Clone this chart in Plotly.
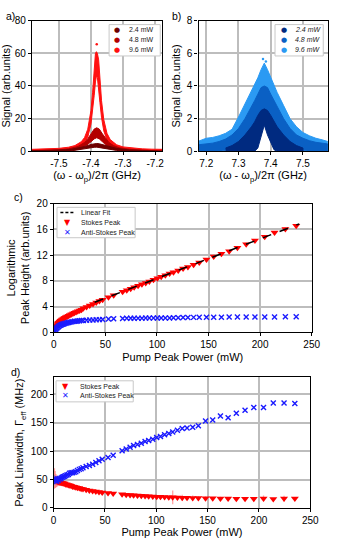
import plotly.graph_objects as go

W, H = 339, 548
FONT = "Liberation Sans, Arial, sans-serif"

# ---------------- data: panel a (Stokes spectra) ----------------
a96_x = [-7.584, -7.56, -7.53, -7.50, -7.47, -7.45, -7.43, -7.42, -7.41, -7.40, -7.395, -7.39, -7.386,
         -7.383, -7.380, -7.376, -7.372, -7.367, -7.36, -7.35, -7.34, -7.32, -7.30, -7.27, -7.24, -7.21, -7.178]
a96_hi = [1.2, 1.3, 1.5, 1.8, 2.5, 3.5, 5.9, 8.4, 13.5, 25.0, 35.8, 50.0, 60.0,
          61.0, 60.0, 56.0, 44.0, 31.0, 19.4, 11.0, 7.2, 4.0, 2.7, 1.9, 1.5, 1.3, 1.2]
a96_lo = [0.1, 0.15, 0.3, 0.5, 0.95, 1.65, 3.3, 5.1, 8.6, 16.6, 24.0, 34.0, 42.5,
          46.0, 45.3, 38.6, 29.8, 20.6, 12.5, 6.9, 4.2, 2.0, 1.1, 0.55, 0.3, 0.15, 0.1]
a48_x = [-7.584, -7.54, -7.50, -7.47, -7.44, -7.42, -7.41, -7.40, -7.39, -7.382,
         -7.374, -7.364, -7.354, -7.344, -7.33, -7.31, -7.28, -7.24, -7.178]
a48_hi = [0.35, 0.5, 0.9, 1.5, 3.0, 5.4, 7.6, 10.6, 13.6, 14.4, 13.6, 10.6, 7.6, 5.4, 3.5, 2.1, 1.2, 0.7, 0.35]
a48_lo = [0, 0, 0.1, 0.4, 1.2, 2.8, 4.0, 5.8, 7.6, 8.3, 7.6, 5.8, 4.0, 2.8, 1.6, 0.7, 0.2, 0, 0]
a24_x = [-7.584, -7.52, -7.48, -7.46, -7.44, -7.42, -7.40, -7.39, -7.382,
         -7.374, -7.36, -7.34, -7.32, -7.30, -7.28, -7.24, -7.178]
a24_hi = [0.3, 0.5, 0.9, 1.3, 1.9, 2.9, 4.2, 4.6, 4.8, 4.6, 3.9, 2.7, 1.8, 1.2, 0.8, 0.5, 0.3]
a24_lo = [0, 0, 0.05, 0.3, 0.65, 1.3, 2.1, 2.45, 2.55, 2.45, 1.95, 1.15, 0.55, 0.2, 0, 0, 0]
a_out_x = [-7.382]
a_out_y = [65.5]

# ---------------- data: panel b (anti-Stokes spectra) ----------------
b96_x = [7.176, 7.20, 7.22, 7.24, 7.26, 7.28, 7.30, 7.32, 7.34, 7.35, 7.36, 7.37, 7.38,
         7.39, 7.40, 7.41, 7.42, 7.44, 7.46, 7.48, 7.50, 7.52, 7.54, 7.56, 7.577]
b96_hi = [0.62, 0.8, 0.85, 0.95, 1.1, 1.35, 2.1, 2.9, 3.6, 4.0, 4.5, 5.0, 5.4,
          5.0, 4.5, 4.0, 3.6, 2.8, 2.0, 1.5, 1.15, 0.95, 0.8, 0.7, 0.6]
b96_lo = [0, 0.05, 0.1, 0.15, 0.3, 0.45, 0.7, 1.1, 1.8, 2.2, 2.7, 3.1, 3.3,
          3.1, 2.7, 2.2, 1.8, 1.1, 0.7, 0.45, 0.3, 0.15, 0.1, 0.05, 0]
b48_x = b96_x
b48_hi = [0.4, 0.45, 0.5, 0.6, 0.75, 1.0, 1.4, 2.0, 2.7, 3.1, 3.5, 3.9, 4.0,
          3.9, 3.5, 3.1, 2.7, 2.0, 1.4, 1.0, 0.8, 0.65, 0.55, 0.5, 0.45]
b48_lo = [0, 0, 0, 0, 0.05, 0.15, 0.3, 0.6, 1.0, 1.3, 1.7, 2.1, 2.3,
          2.1, 1.7, 1.3, 1.0, 0.6, 0.3, 0.15, 0.05, 0, 0, 0, 0]
b24_x = [7.26, 7.28, 7.30, 7.32, 7.34, 7.35, 7.36, 7.37, 7.38, 7.39, 7.40, 7.41, 7.42, 7.44, 7.46, 7.48, 7.50]
b24_hi = [0.2, 0.35, 0.6, 1.0, 1.5, 1.8, 2.2, 2.5, 2.6, 2.5, 2.2, 1.85, 1.5, 1.0, 0.6, 0.35, 0.2]
b24_lo = [0, 0, 0, 0, 0, 0, 0.2, 0.9, 1.6, 1.0, 0.5, 0.1, 0, 0, 0, 0, 0]
b_out_x = [7.376, 7.385]
b_out_y = [5.65, 5.5]

# ---------------- data: panels c and d ----------------
power = [0.8, 1.5, 2.2, 3.0, 3.8, 4.6, 5.5, 6.4, 7.4, 8.4,
         9.5, 10.6, 11.8, 13.0, 14.3, 15.6, 17.0, 18.5, 20.0, 21.6,
         23.2, 25.0, 26.8, 28.6, 31.7, 34.8, 38.0, 41.1, 44.2, 47.3,
         53.0, 58.0, 66.7, 70.7, 74.5, 77.9, 81.7, 85.4, 89.1, 92.6,
         96.6, 100.4, 104.1, 108.1, 112.2, 116.0, 120.6, 125.3, 130.0, 135.5,
         141.0, 148.0, 155.0, 162.5, 170.0, 178.0, 186.5, 195.0, 204.5, 214.0,
         224.5, 235.0]
stokes_log = [0.4, 0.7, 0.95, 1.15, 1.35, 1.5, 1.65, 1.78, 1.9, 2.02,
              2.14, 2.25, 2.36, 2.47, 2.58, 2.68, 2.8, 2.92, 3.03, 3.15,
              3.27, 3.4, 3.52, 3.75, 3.95, 4.15, 4.4, 4.65, 4.85, 5.05,
              5.45, 5.75, 6.3, 6.55, 6.78, 7.0, 7.22, 7.45, 7.68, 7.9,
              8.15, 8.4, 8.62, 8.88, 9.12, 9.35, 9.6, 9.9, 10.15, 10.5,
              10.85, 11.3, 11.8, 12.2, 12.6, 13.15, 13.7, 14.25, 14.85, 15.5,
              16.05, 16.55]
anti_log = [0.25, 0.4, 0.55, 0.68, 0.8, 0.9, 1.0, 1.08, 1.16, 1.24,
            1.3, 1.36, 1.42, 1.48, 1.53, 1.57, 1.62, 1.66, 1.7, 1.73,
            1.76, 1.79, 1.82, 1.84, 1.87, 1.9, 1.93, 1.95, 1.97, 1.99,
            2.08, 2.1, 2.16, 2.17, 2.18, 2.19, 2.2, 2.2, 2.21, 2.21,
            2.22, 2.22, 2.23, 2.23, 2.24, 2.25, 2.28, 2.3, 2.31, 2.32,
            2.33, 2.34, 2.35, 2.35, 2.36, 2.37, 2.37, 2.38, 2.38, 2.39,
            2.4, 2.4]
fit_x = [39.6, 238.0]
fit_y = [4.67, 16.85]

stokes_lw = [52, 50, 48, 47, 46.5, 46, 45.5, 45, 44.5, 44,
             43.5, 43, 42, 41.5, 40.5, 40, 39, 38, 37.5, 36.5,
             35.5, 35, 34, 33.5, 32, 31, 30, 29, 28, 27.5,
             26.5, 25.5, 24, 23.5, 23, 22.5, 22, 21.5, 21, 20.5,
             20.2, 20, 19.6, 19.3, 19, 18.8, 18.5, 18.2, 18, 17.8,
             17.5, 17.2, 17, 16.8, 16.6, 16.4, 16.3, 16.2, 16.8, 15.8,
             16.5, 16.5]
stokes_lw_err = [18, 15, 12, 10, 8, 7, 6, 5, 4.5, 4,
                 3.5, 3, 3, 2.5, 2.5, 2, 2, 2, 2, 2,
                 2, 2, 2, 2, 2, 2, 2, 2, 2, 2,
                 2, 2, 2, 2, 2, 2, 2, 2, 2, 2,
                 2, 2, 2, 2, 2, 12, 3, 5, 3, 4,
                 3, 3, 2, 3, 2, 3, 2, 2, 5, 2,
                 5, 3]
anti_lw = [50, 48, 50, 47, 51, 49, 52, 51, 53, 54,
           55, 56, 57, 58, 59, 61, 62, 62, 63, 64,
           66, 68, 69, 71, 73, 75, 77, 80, 83, 86,
           89, 93, 101, 104, 107, 110, 112, 114, 117, 119,
           121, 124, 126, 129, 131, 134, 137, 140, 141, 142,
           145, 153, 155, 162, 159, 167, 172, 177, 177, 185,
           185, 184]
anti_lw_err = [8, 7, 6, 5, 5, 4, 4, 3, 3, 3,
               2, 2, 2, 2, 2, 2, 2, 2, 2, 2,
               2, 2, 2, 2, 2, 2, 2, 2, 2, 2,
               2, 2, 2, 2, 2, 2, 2, 2, 2, 2,
               2, 2, 2, 2, 2, 2, 2, 2, 2, 2,
               2, 2, 2, 2, 2, 2, 2, 2, 2, 2,
               2, 2]

series_labels = ["2.4 mW", "4.8 mW", "9.6 mW"]
red_cols = ["#6e0000", "#b30000", "#ff1010"]
blue_cols = ["#002a80", "#0a60c4", "#2b9af3"]
a_ticks = [-7.5, -7.4, -7.3, -7.2]
a_ticktext = ["-7.5", "-7.4", "-7.3", "-7.2"]
b_ticks = [7.2, 7.3, 7.4, 7.5]
b_ticktext = ["7.2", "7.3", "7.4", "7.5"]

fig = go.Figure()


def band(x, hi, lo, color, xa, ya):
    fig.add_trace(go.Scatter(
        x=list(x) + list(x)[::-1], y=list(hi) + list(lo)[::-1],
        fill="toself", fillcolor=color, mode="lines",
        line=dict(color=color, width=1), xaxis=xa, yaxis=ya,
        showlegend=False, hoverinfo="skip"))


# panel a: 9.6 drawn first (back), 2.4 on top
band(a96_x, a96_hi, a96_lo, red_cols[2], "x", "y")
fig.add_trace(go.Scatter(x=a_out_x, y=a_out_y, mode="markers", marker=dict(size=2.5, color=red_cols[2]),
                         xaxis="x", yaxis="y", showlegend=False))
band(a48_x, a48_hi, a48_lo, red_cols[1], "x", "y")
band(a24_x, a24_hi, a24_lo, red_cols[0], "x", "y")

# panel b
band(b96_x, b96_hi, b96_lo, blue_cols[2], "x2", "y2")
fig.add_trace(go.Scatter(x=b_out_x, y=b_out_y, mode="markers", marker=dict(size=2.5, color=blue_cols[2]),
                         xaxis="x2", yaxis="y2", showlegend=False))
band(b48_x, b48_hi, b48_lo, blue_cols[1], "x2", "y2")
band(b24_x, b24_hi, b24_lo, blue_cols[0], "x2", "y2")

# panel c
fig.add_trace(go.Scatter(x=power, y=stokes_log, mode="markers", xaxis="x3", yaxis="y3",
                         marker=dict(symbol="triangle-down", size=7, color="#ff0000"),
                         error_y=dict(type="constant", value=0.25, color="rgba(255,110,110,0.6)",
                                      thickness=1.5, width=0),
                         showlegend=False))
fig.add_trace(go.Scatter(x=power, y=anti_log, mode="markers", xaxis="x3", yaxis="y3",
                         marker=dict(symbol="x-thin", size=5, color="#1a1aff",
                                     line=dict(color="#1a1aff", width=1.4)),
                         showlegend=False))
fig.add_trace(go.Scatter(x=fit_x, y=fit_y, mode="lines", xaxis="x3", yaxis="y3",
                         line=dict(color="black", width=1.5, dash="dash"), showlegend=False))

# panel d
fig.add_trace(go.Scatter(x=power, y=stokes_lw, mode="markers", xaxis="x4", yaxis="y4",
                         marker=dict(symbol="triangle-down", size=7, color="#ff0000"),
                         error_y=dict(type="data", array=stokes_lw_err, color="rgba(255,90,90,0.55)",
                                      thickness=1.3, width=0),
                         showlegend=False))
fig.add_trace(go.Scatter(x=power, y=anti_lw, mode="markers", xaxis="x4", yaxis="y4",
                         marker=dict(symbol="x-thin", size=5, color="#1a1aff",
                                     line=dict(color="#1a1aff", width=1.4)),
                         error_y=dict(type="data", array=anti_lw_err, color="rgba(90,90,255,0.5)",
                                      thickness=1.2, width=0),
                         showlegend=False))


def px(xp):
    return xp / W


def py(yp):
    return 1 - yp / H


axis_common = dict(showline=True, linecolor="black", linewidth=1.2, mirror=True,
                   showgrid=True, gridcolor="#bdbdbd", gridwidth=1.5, zeroline=False,
                   ticks="outside", ticklen=3, tickwidth=1, tickcolor="black",
                   tickfont=dict(family=FONT, size=10, color="black"))
tfont = dict(family=FONT, size=11, color="black")
xtitle_a = "(ω - ω<sub>p</sub>)/2π (GHz)"

fig.update_layout(
    width=W, height=H, autosize=False,
    margin=dict(l=0, r=0, t=0, b=0),
    paper_bgcolor="white", plot_bgcolor="white",
    font=dict(family=FONT, color="black"),
    showlegend=False,
    xaxis=dict(axis_common, domain=[px(30), px(165)], range=[-7.584, -7.178], anchor="y",
               tickvals=a_ticks, ticktext=a_ticktext,
               title=dict(text=xtitle_a, font=tfont, standoff=2)),
    yaxis=dict(axis_common, domain=[py(149.3), py(16)], range=[0, 80], dtick=20, anchor="x",
               title=dict(text="Signal (arb.units)", font=tfont, standoff=4)),
    xaxis2=dict(axis_common, domain=[px(202.7), px(336.7)], range=[7.176, 7.577], anchor="y2",
                tickvals=b_ticks, ticktext=b_ticktext,
                title=dict(text=xtitle_a, font=tfont, standoff=2)),
    yaxis2=dict(axis_common, domain=[py(149.3), py(16)], range=[0, 8], dtick=2, anchor="x2",
                title=dict(text="Signal (arb.units)", font=tfont, standoff=4)),
    xaxis3=dict(axis_common, domain=[px(52.7), px(320)], range=[0, 250], dtick=50, anchor="y3",
                title=dict(text="Pump Peak Power (mW)", font=tfont, standoff=3)),
    yaxis3=dict(axis_common, domain=[py(334), py(202.7)], range=[0, 20], dtick=4, anchor="x3",
                title=dict(text="Logarithmic<br>Peak Height (arb.units)", font=tfont, standoff=4)),
    xaxis4=dict(axis_common, domain=[px(52.5), px(318.5)], range=[0, 250], dtick=50, anchor="y4",
                title=dict(text="Pump Peak Power (mW)", font=tfont, standoff=3)),
    yaxis4=dict(axis_common, domain=[py(513.3), py(380)], range=[0, 230],
                tickvals=[0, 50, 100, 150, 200], anchor="x4",
                title=dict(text="Peak Linewidth, Γ<sub>eff</sub> (MHz)", font=tfont, standoff=4)),
)

shapes = []
annotations = []

# panel labels (explicitly centred so paper-ref auto-anchoring does not shift them)
for lab, x0, y0 in [("a)", 7.5, 11.5), ("b)", 180, 11.5), ("c)", 16, 196), ("d)", 13, 375)]:
    annotations.append(dict(text=lab, x=px(x0), y=py(y0), xref="paper", yref="paper",
                            xanchor="center", yanchor="middle",
                            showarrow=False, borderpad=0,
                            font=dict(family=FONT, size=10.5, color="black")))


def legend_box(x0, y0, x1, y1):
    shapes.append(dict(type="rect", xref="paper", yref="paper", x0=px(x0), x1=px(x1),
                       y0=py(y1), y1=py(y0), line=dict(color="#c8c8c8", width=1),
                       fillcolor="white", layer="above"))


def legend_text(text, x0, y0, size=7, italic=False):
    t = "<i>" + text + "</i>" if italic else text
    annotations.append(dict(text=t, x=px(x0), y=py(y0), xref="paper", yref="paper",
                            xanchor="left", yanchor="middle", showarrow=False,
                            font=dict(family=FONT, size=size, color="#222")))


def legend_sym(sym, color, x0, y0, size=8):
    annotations.append(dict(text=sym, x=px(x0), y=py(y0), xref="paper", yref="paper",
                            xanchor="center", yanchor="middle", showarrow=False,
                            font=dict(family="DejaVu Sans", size=size, color=color)))


# legend a
legend_box(110, 20, 163, 52)
for i, (lab, col) in enumerate(zip(series_labels, red_cols)):
    legend_sym("●", col, 118.5, 25.5 + 10 * i, size=7)
    legend_text(lab, 129, 25.5 + 10 * i)
# legend b
legend_box(282, 20, 332, 52)
for i, (lab, col) in enumerate(zip(series_labels, blue_cols)):
    legend_sym("●", col, 291.5, 25.5 + 10 * i, size=7)
    legend_text(lab, 301, 25.5 + 10 * i, italic=True)
# legend c
legend_box(56, 206.5, 137, 237.5)
shapes.append(dict(type="line", xref="paper", yref="paper", x0=px(59.5), x1=px(74.5),
                   y0=py(211.8), y1=py(211.8), line=dict(color="black", width=1.5, dash="3px,2px")))
legend_text("Linear Fit", 79, 211.8)
legend_sym("▼", "#ff0000", 67, 221.8, size=8)
legend_text("Stokes Peak", 79, 221.8)
legend_sym("✕", "#1a1aff", 67, 231.8, size=8)
legend_text("Anti-Stokes Peak", 79, 231.8)
# legend d
legend_box(55, 383.5, 135, 405)
legend_sym("▼", "#ff0000", 65, 389.3, size=8)
legend_text("Stokes Peak", 77.5, 389.3)
legend_sym("✕", "#1a1aff", 65, 399, size=8)
legend_text("Anti-Stokes Peak", 77.5, 399)

fig.update_layout(shapes=shapes, annotations=annotations)

# remove the browser's default 8px page margin so the figure sits at the window's origin
fig.write_html("out.html", config={"displayModeBar": False},
               post_script="document.body.style.margin='0px';document.body.style.overflow='hidden';")
